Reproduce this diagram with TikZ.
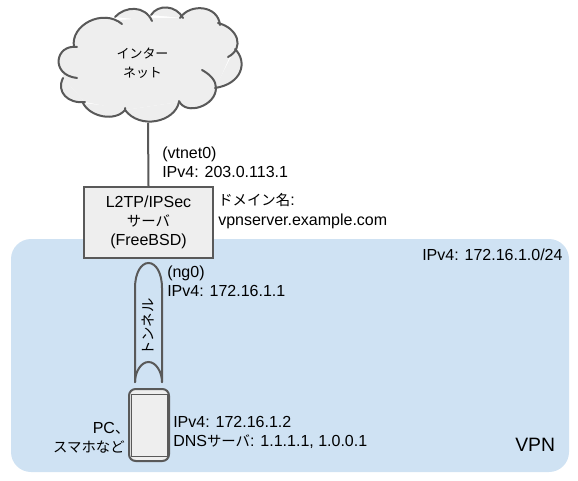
\documentclass[tikz,border=0pt]{standalone}
\usepackage{fontspec}
\setmainfont{Liberation Sans}
\newfontfamily\jpfont[Scale=0.9]{Noto Sans CJK JP}
\newcommand{\jp}[1]{{\jpfont #1}}
\definecolor{vpnblue}{HTML}{CFE2F3}
\definecolor{boxfill}{HTML}{EEEEEE}
\definecolor{linegray}{HTML}{595959}
\tikzset{
	outline/.style={draw=linegray,line width=1.5pt},
	lobe/.style={draw=linegray,line width=1.5pt,line cap=round},
	lobefill/.style={fill=boxfill},
	label/.style={inner sep=0pt,align=left,anchor=west},
}

\begin{document}
\begin{tikzpicture}[x=0.75pt,y=-0.75pt,font=\fontsize{12}{14.5}\selectfont]
	\useasboundingbox (0,0) rectangle (578,481);

	% vpn area
	\fill[vpnblue,rounded corners=15pt] (11,239) rectangle (569,472);

	% cloud
	\fill[boxfill] (74,47) -- (118,20) -- (152,18) -- (183,18) -- (219,24) -- (233,49)
		-- (216,88) -- (179,102) -- (125,110) -- (85,102) -- (63,78) -- (62,50) -- cycle;
	\foreach \lobestyle in {lobefill,lobe} {
		\path[\lobestyle] (74,47) .. controls (70,25) and (103,8) .. (122,24);
		\path[\lobestyle] (115,17) .. controls (125,6) and (145,5) .. (152,21);
		\path[\lobestyle] (151,15) .. controls (158,4) and (176,5) .. (183,18);
		\path[\lobestyle] (180,18) .. controls (190,3) and (218,5) .. (220,25);
		\path[\lobestyle] (218,23) .. controls (238,28) and (245,48) .. (228,57);
		\path[\lobestyle] (235,49) .. controls (248,62) and (242,84) .. (215,88);
		\path[\lobestyle] (202,70) .. controls (211,75) and (216,81) .. (216,88)
			.. controls (216,106) and (186,116) .. (179,101);
		\path[\lobestyle] (179,102) .. controls (175,122) and (140,130) .. (125,110);
		\path[\lobestyle] (83,103) .. controls (90,117) and (115,122) .. (125,110) -- (125,108);
		\path[\lobestyle] (63,78) .. controls (56,92) and (68,104) .. (85,102);
		\path[\lobestyle] (77,47) .. controls (55,44) and (50,75) .. (77,78);
	}

	% nodes
	\node[align=center,inner sep=0pt,font=\fontsize{10.8}{14}\selectfont] (inet) at (142.5,63) {\jp{インター}\\\jp{ネット}};
	\coordinate (inetbottom) at (148,123);
	\node[outline,fill=boxfill,minimum width=96.75pt,minimum height=53.25pt,align=center,inner sep=0pt] (srv) at (148.5,222.5)
		{L2TP/IPSec\\\jp{サーバ}\\(FreeBSD)};

	% tunnel
	\coordinate (tunnelleft) at (135,382);
	\coordinate (tunnelright) at (162,382);
	\draw[outline,line cap=round] (tunnelleft) -- (135,288) .. controls (135,273) and (141,263) .. (148.5,263)
		.. controls (156,263) and (162,273) .. (162,288) -- (tunnelright);
	\draw[outline,line cap=round] (tunnelleft) .. controls (135,372) and (141,362) .. (148.5,362)
		.. controls (156,362) and (162,372) .. (tunnelright);
	\node[rotate=90,inner sep=0pt] (tunnel) at (148.5,327) {\jp{トンネル}};

	% client device
	\node[outline,fill=boxfill,rounded corners=5pt,minimum width=30pt,minimum height=54pt,inner sep=0pt] (pc) at (149,425) {};
	\node[draw=linegray,line width=0.75pt,minimum width=27pt,minimum height=46.5pt,inner sep=0pt] (screen) at (pc.center) {};

	% connectors
	\draw[linegray,line width=1.5pt] (inetbottom) -- (srv.north);

	% labels
	\node[label] (wanaddr) at (162,162) {(vtnet0)\\IPv4: 203.0.113.1};
	\node[label] (dnsname) at (218,211) {\jp{ドメイン名}:\\vpnserver.example.com};
	\node[label] (lansubnet) at (422,255) {IPv4: 172.16.1.0/24};
	\node[label] (tunaddr) at (167,281) {(ng0)\\IPv4: 172.16.1.1};
	\node[label] (pcaddr) at (173,432.5) {IPv4: 172.16.1.2\\DNS\jp{サーバ}: 1.1.1.1, 1.0.0.1};
	\node[inner sep=0pt,align=right,anchor=east] (pcname) at (125,438) {PC\jp{、}\hspace*{-3.5pt}\\\jp{スマホなど}};
	\node[inner sep=0pt,anchor=west,font=\fontsize{14.5}{16}\selectfont] (vpn) at (515,445) {VPN};
\end{tikzpicture}
\end{document}
